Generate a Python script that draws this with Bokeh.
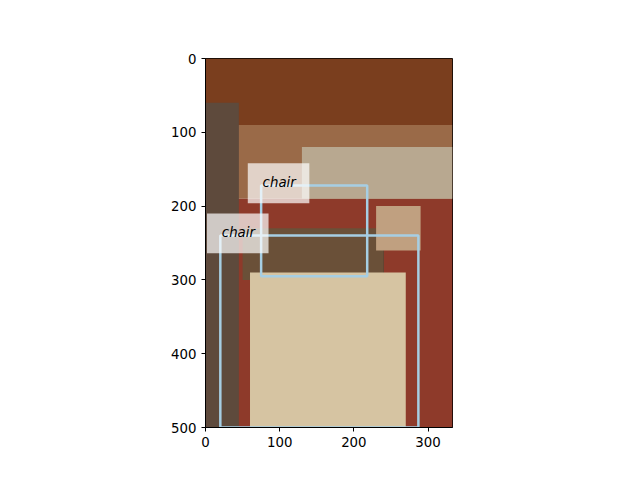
from bokeh.plotting import figure
from bokeh.models import Range1d
from bokeh.core.properties import value
from bokeh.embed import file_html
from bokeh.resources import INLINE

# rough stand-in for the photo: regions (left, right, top, bottom, colour)
reg_left = [0, 0, 0, 130, 0, 110, 50, 60, 230]
reg_right = [333, 333, 333, 333, 45, 240, 240, 270, 290]
reg_top = [0, 90, 190, 120, 60, 250, 230, 290, 200]
reg_bottom = [90, 190, 500, 190, 500, 330, 300, 500, 260]
reg_color = ["#7a3e1e", "#9a6a48", "#8e3a2a", "#b8a890", "#5e4a3c",
             "#2c3c34", "#6a5038", "#d6c4a2", "#c0a080"]

# detections
box_x0 = [75, 20]
box_y0 = [172, 240]
box_x1 = [218, 287]
box_y1 = [295, 500]
labels = ["chair", "chair"]

p = figure(output_backend="svg", toolbar_location=None,
           frame_width=247, frame_height=369,
           min_border_left=205, min_border_right=162,
           min_border_top=58, min_border_bottom=37,
           x_range=Range1d(0, 333), y_range=Range1d(500, 0))
p.outline_line_color = "black"
p.xgrid.visible = False
p.ygrid.visible = False
p.xaxis.ticker = [0, 100, 200, 300]
p.yaxis.ticker = [0, 100, 200, 300, 400, 500]
for ax in (p.xaxis, p.yaxis):
    ax.major_label_text_font_size = "10pt"
    ax.major_label_text_font = "DejaVu Sans"
    ax.major_label_text_color = "black"
    ax.minor_tick_line_color = None
    ax.major_tick_out = 4
    ax.major_tick_in = 0

p.quad(left=reg_left, right=reg_right, top=reg_top, bottom=reg_bottom,
       fill_color=reg_color, line_color=None)

p.quad(left=box_x0, right=box_x1, top=box_y0, bottom=box_y1,
       fill_color=None, line_color="#a6cee3", line_width=2.5)

lab_l = [x - 18 for x in box_x0]
lab_r = [x + 65 for x in box_x0]
lab_t = [y - 30 for y in box_y0]
lab_b = [y + 24 for y in box_y0]
p.quad(left=lab_l, right=lab_r, top=lab_t, bottom=lab_b,
       fill_color="white", fill_alpha=0.7, line_color=None)
p.text(x=[x + 2 for x in box_x0], y=[y - 4 for y in box_y0], text=labels,
       text_font=value("DejaVu Sans"), text_font_style="italic",
       text_font_size="10pt", text_baseline="middle", text_color="black")

open("out.html", "w").write(file_html(p, INLINE))
